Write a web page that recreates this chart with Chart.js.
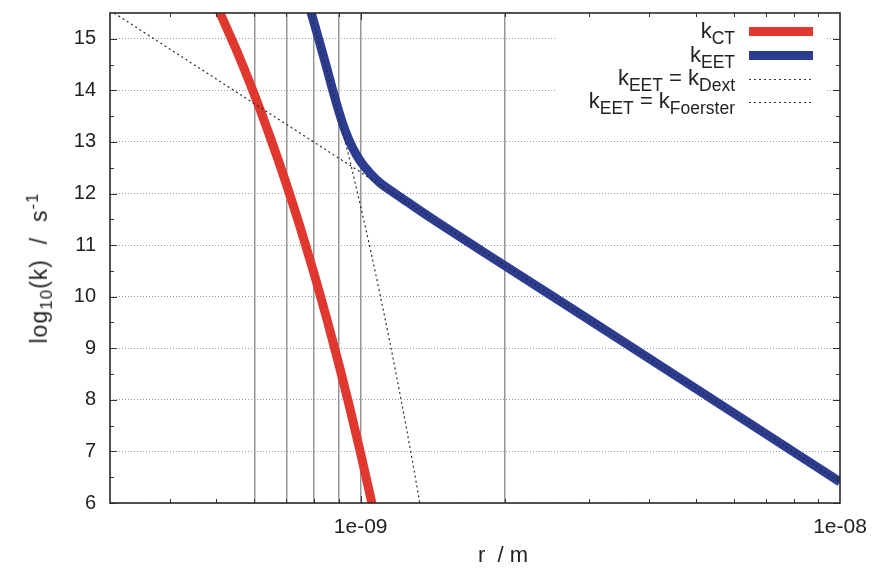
<!DOCTYPE html>
<html lang="en">
  <head>
    <meta charset="UTF-8" />
    <title>Rate constants vs distance</title>
    <script src="https://cdn.jsdelivr.net/npm/chart.js"></script>
    <style>
      body {
        margin: 0;
        background: #fff;
        font-family: "Liberation Sans", Arial, sans-serif;
        color: #222;
      }
      .wrap {
        position: relative;
        width: 874px;
        height: 568px;
      }
      canvas {
        position: absolute;
        left: 0;
        top: 0;
      }
      .ytitle {
        position: absolute;
        left: 40px;
        top: 268px;
        transform: translate(-50%, -50%) rotate(-90deg);
        font-size: 23px;
        letter-spacing: 1px;
        white-space: pre;
      }
      .xtitle {
        position: absolute;
        left: 478px;
        top: 542px;
        font-size: 22px;
        white-space: pre;
      }
      .legend {
        position: absolute;
        left: 557px;
        top: 18px;
        width: 270px;
        height: 98px;
        background: #fff;
      }
      .row {
        position: absolute;
        right: 92px;
        font-size: 22px;
        line-height: 20px;
        white-space: nowrap;
      }
      .row sub {
        font-size: 17.5px;
        vertical-align: -6px;
      }
      .ytitle sub {
        font-size: 17px;
      }
      .ytitle sup {
        font-size: 17px;
      }
      .sample {
        position: absolute;
        left: 192px;
        width: 64px;
      }
      .dots {
        height: 1px;
        background: repeating-linear-gradient(to right, #333 0 2px, transparent 2px 5px);
      }
    </style>
  </head>
  <body>
    <div class="wrap">
      <canvas id="rateChart" width="874" height="568"></canvas>

      <div class="ytitle">log<sub>10</sub>(k)  /  s<sup>-1</sup></div>
      <div class="xtitle">r  / m</div>

      <div class="legend">
        <div class="row" style="top: 3px">k<sub>CT</sub></div>
        <div class="sample" style="top: 9px; height: 9px; background: #e0382f"></div>
        <div class="row" style="top: 27px">k<sub>EET</sub></div>
        <div class="sample" style="top: 33px; height: 9px; background: #2b3c91"></div>
        <div class="row" style="top: 50px">k<sub>EET</sub> = k<sub>Dext</sub></div>
        <div class="sample dots" style="top: 61px"></div>
        <div class="row" style="top: 73px">k<sub>EET</sub> = k<sub>Foerster</sub></div>
        <div class="sample dots" style="top: 84px"></div>
      </div>
    </div>

    <script>
      // distances in m, rates as log10(k / s^-1)
      const rCT = [5.0e-10, 5.5e-10, 6.0e-10, 6.5e-10, 7.0e-10, 7.5e-10, 8.0e-10, 8.5e-10, 9.0e-10, 9.5e-10, 1.0e-9, 1.05e-9, 1.07e-9];
      const logCT = [15.66, 14.79, 13.92, 13.05, 12.18, 11.31, 10.44, 9.57, 8.7, 7.83, 6.96, 6.09, 5.74];

      const rEET = [7.8e-10, 8.0e-10, 8.2e-10, 8.5e-10, 8.7e-10, 9.0e-10, 9.3e-10, 9.6e-10, 1.0e-9, 1.05e-9, 1.1e-9, 1.15e-9, 1.25e-9, 1.4e-9, 2.0e-9, 3.0e-9, 5.0e-9, 1.0e-8];
      const logEET = [15.65, 15.3, 14.95, 14.43, 14.08, 13.6, 13.2, 12.9, 12.62, 12.38, 12.2, 12.07, 11.84, 11.53, 10.6, 9.55, 8.22, 6.41];

      const rDext = [7.8e-10, 8.5e-10, 9.0e-10, 9.5e-10, 1.0e-9, 1.05e-9, 1.1e-9, 1.15e-9, 1.2e-9, 1.25e-9, 1.3e-9, 1.34e-9];
      const logDext = [15.6, 14.38, 13.5, 12.63, 11.75, 10.88, 10.0, 9.13, 8.25, 7.38, 6.5, 5.8];

      const rFoer = [3.0e-10, 1.0e-8];
      const logFoer = [15.55, 6.41];

      const xTicks = [3e-10, 4e-10, 5e-10, 6e-10, 7e-10, 8e-10, 9e-10, 1e-9, 2e-9, 3e-9, 4e-9, 5e-9, 6e-9, 7e-9, 8e-9, 9e-9, 1e-8];
      const xMajor = [1e-9, 1e-8];
      const xLabels = { 1e-9: "1e-09", 1e-8: "1e-08" };
      const xGrid = [6e-10, 7e-10, 8e-10, 9e-10, 1e-9, 2e-9];
      const yTicks = [6, 7, 8, 9, 10, 11, 12, 13, 14, 15];
      const yMinor = [6.5, 7.5, 8.5, 9.5, 10.5, 11.5, 12.5, 13.5, 14.5];

      const pts = (xs, ys) => xs.map((x, i) => ({ x: x, y: ys[i] }));

      // gnuplot style: ticks pointing inwards on all four sides + frame
      const frameTicks = {
        id: "frameTicks",
        afterDatasetsDraw(chart) {
          const { ctx, chartArea: a, scales } = chart;
          const x = scales.x, y = scales.y;
          ctx.save();
          ctx.strokeStyle = "#333";
          ctx.lineWidth = 1;
          ctx.beginPath();
          xTicks.forEach((v) => {
            if (v <= x.min || v >= x.max) return;
            const px = Math.round(x.getPixelForValue(v)) + 0.5;
            const len = xMajor.includes(v) ? 7 : 4;
            ctx.moveTo(px, a.bottom); ctx.lineTo(px, a.bottom - len);
            ctx.moveTo(px, a.top); ctx.lineTo(px, a.top + len);
          });
          yTicks.concat(yMinor).forEach((v) => {
            const py = Math.round(y.getPixelForValue(v)) + 0.5;
            const len = yMinor.includes(v) ? 4 : 7;
            ctx.moveTo(a.left, py); ctx.lineTo(a.left + len, py);
            ctx.moveTo(a.right, py); ctx.lineTo(a.right - len, py);
          });
          ctx.stroke();
          ctx.lineWidth = 1.6;
          ctx.strokeStyle = "#2a2a2a";
          ctx.strokeRect(a.left, a.top, a.right - a.left, a.bottom - a.top);
          ctx.restore();
        },
      };

      const tickFont = { family: "'Liberation Sans', Arial, sans-serif", size: 20 };

      new Chart(document.getElementById("rateChart"), {
        type: "line",
        data: {
          datasets: [
            {
              label: "kEET = kDext",
              data: pts(rDext, logDext),
              borderColor: "#2a2a2a",
              borderWidth: 1.2,
              borderDash: [2, 3],
              cubicInterpolationMode: "monotone",
              order: 0,
            },
            {
              label: "kEET = kFoerster",
              data: pts(rFoer, logFoer),
              borderColor: "#2a2a2a",
              borderWidth: 1.2,
              borderDash: [2, 3],
              order: 0,
            },
            {
              label: "kCT",
              data: pts(rCT, logCT),
              borderColor: "#e0382f",
              borderWidth: 9,
              cubicInterpolationMode: "monotone",
              order: 1,
            },
            {
              label: "kEET",
              data: pts(rEET, logEET),
              borderColor: "#2b3c91",
              borderWidth: 9,
              cubicInterpolationMode: "monotone",
              order: 1,
            },
          ],
        },
        options: {
          responsive: false,
          animation: false,
          clip: 0,
          elements: { point: { radius: 0 }, line: { borderCapStyle: "butt" } },
          layout: { padding: { top: 13, right: 34, left: 0, bottom: 0 } },
          plugins: { legend: { display: false }, tooltip: { enabled: false } },
          scales: {
            x: {
              type: "logarithmic",
              min: 3e-10,
              max: 1e-8,
              afterBuildTicks: (scale) => {
                scale.ticks = xTicks.map((v) => ({ value: v }));
              },
              afterFit: (scale) => {
                scale.height = 65;
                scale.paddingLeft = 0;
                scale.paddingRight = 0;
              },
              grid: {
                drawTicks: false,
                lineWidth: 1.5,
                color: (c) => (c.tick && xGrid.includes(c.tick.value) ? "#959595" : "rgba(0,0,0,0)"),
              },
              border: { display: false },
              ticks: {
                autoSkip: false,
                maxRotation: 0,
                padding: 12,
                color: "#222",
                font: { family: tickFont.family, size: 21 },
                callback: (v) => xLabels[v] || "",
              },
            },
            y: {
              type: "linear",
              min: 6,
              max: 15.5,
              afterBuildTicks: (scale) => {
                scale.ticks = yTicks.map((v) => ({ value: v }));
              },
              afterFit: (scale) => {
                scale.width = 110;
                scale.paddingTop = 0;
                scale.paddingBottom = 0;
              },
              grid: {
                drawTicks: false,
                lineWidth: 1,
                color: "#9a9a9a",
              },
              border: { display: false, dash: [1, 2] },
              ticks: {
                padding: 14,
                color: "#222",
                font: tickFont,
              },
            },
          },
        },
        plugins: [frameTicks],
      });
    </script>
  </body>
</html>
